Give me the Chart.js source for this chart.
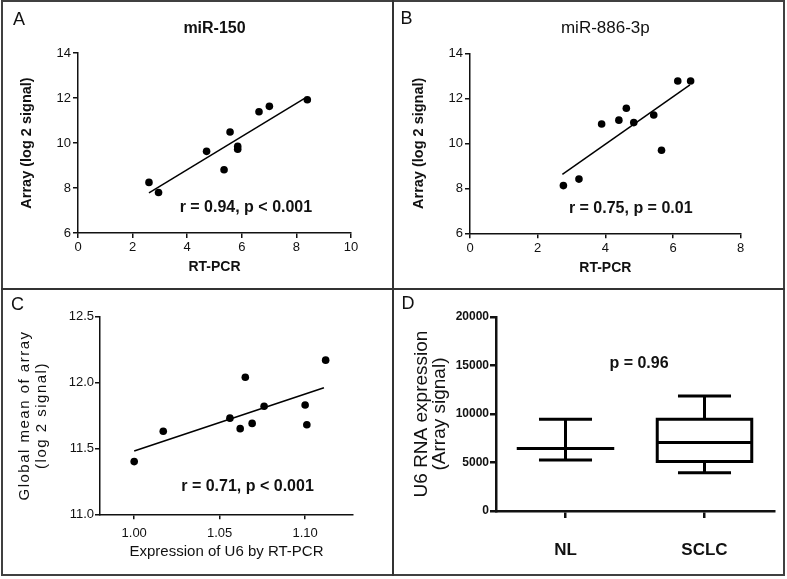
<!DOCTYPE html>
<html><head><meta charset="utf-8">
<script src="https://cdn.jsdelivr.net/npm/chart.js@4.4.1/dist/chart.umd.min.js"></script>
<style>
html,body{margin:0;padding:0;background:#fff;}
#wrap{position:relative;width:787px;height:579px;overflow:hidden;background:#fff;}
canvas{position:absolute;}
.ln{position:absolute;background:#333;}
#outer{position:absolute;left:1px;top:0;width:784px;height:576px;border:2px solid #404040;box-sizing:border-box;}
</style></head><body>
<div id="wrap">
<canvas id="cA" width="392" height="288" style="left:0;top:0;width:392px;height:288px"></canvas>
<canvas id="cB" width="391" height="288" style="left:394px;top:0;width:391px;height:288px"></canvas>
<canvas id="cC" width="392" height="286" style="left:0;top:290px;width:392px;height:286px"></canvas>
<canvas id="cD" width="391" height="286" style="left:394px;top:290px;width:391px;height:286px"></canvas>
<div id="outer"></div>
<div class="ln" style="left:392px;top:0;width:2px;height:576px"></div>
<div class="ln" style="left:1px;top:288px;width:784px;height:2px"></div>
</div>
<script>
const FONT = "'Liberation Sans', Arial, Helvetica, sans-serif";

// ---- Panel A: miR-150 ----
const rtpcrA = [2.60, 2.95, 4.71, 5.35, 5.57, 5.85, 5.85, 6.63, 7.01, 8.40];
const arrayA = [8.25, 7.80, 9.63, 8.81, 10.49, 9.85, 9.72, 11.39, 11.63, 11.92];
const fitA_x = [2.6, 8.3];
const fitA_y = [7.78, 11.98];

// ---- Panel B: miR-886-3p ----
const rtpcrB = [2.76, 3.22, 3.89, 4.40, 4.62, 4.84, 5.43, 5.66, 6.14, 6.52];
const arrayB = [8.12, 8.41, 10.86, 11.03, 11.56, 10.92, 11.26, 9.69, 12.77, 12.77];
const fitB_x = [2.73, 6.5];
const fitB_y = [8.62, 12.6];

// ---- Panel C: U6 vs global mean ----
const u6C = [1.000, 1.017, 1.056, 1.062, 1.065, 1.069, 1.076, 1.100, 1.101, 1.112];
const meanC = [11.40, 11.63, 11.73, 11.65, 12.04, 11.69, 11.82, 11.83, 11.68, 12.17];
const fitC_x = [1.00, 1.111];
const fitC_y = [11.48, 11.96];
const ticksC_x = [1.00, 1.05, 1.10];

// ---- Panel D: U6 RNA expression box plot ----
const groupsD = ['NL', 'SCLC'];
const lowD  = [5250, 3950];
const q1D   = [6450, 5100];
const medD  = [6450, 7050];
const q3D   = [6450, 9450];
const highD = [9450, 11850];

function pts(xs, ys){ return xs.map((x,i)=>({x:x, y:ys[i]})); }

const panelText = {
  id:'panelText',
  beforeDraw(chart, args, o){
    if (o.yTitleSpacing && !chart.scales.y._spacedTitle){
      const s = chart.scales.y; const orig = s.drawTitle;
      s.drawTitle = function(){ const c = this.ctx; c.letterSpacing = o.yTitleSpacing; orig.call(this); c.letterSpacing = '0px'; };
      s._spacedTitle = true;
    }
  },
  afterDraw(chart, args, o){
    const ctx = chart.ctx; ctx.save();
    ctx.fillStyle = '#111'; ctx.textAlign = 'center'; ctx.textBaseline = 'middle';
    ctx.font = 'normal 18px ' + FONT;
    ctx.fillText(o.letter, o.lx, o.ly);
    if (o.note){
      ctx.font = 'bold 16px ' + FONT;
      const x = chart.scales.x.getPixelForValue(o.note.x);
      const y = chart.scales.y.getPixelForValue(o.note.y);
      ctx.fillText(o.note.text, x, y);
    }
    ctx.restore();
  }
};

function axis(o){
  const a = {
    type:'linear', min:o.min, max:o.max,
    afterFit(s){ if(o.w!=null) s.width=o.w; if(o.h!=null) s.height=o.h; },
    ticks:{ color:'#111', font:o.tickFont, padding:o.tickPad, autoSkip:false, maxRotation:0, minRotation:0 },
    grid:{ display:true, drawOnChartArea:false, drawTicks:true, tickLength:o.tl, color:'#111', lineWidth:o.lw },
    border:{ display:true, color:'#111', width:o.lw },
    title:{ display:true, text:o.title, color:'#111', font:o.titleFont, padding:o.titlePad }
  };
  if (o.step!=null) a.ticks.stepSize = o.step;
  if (o.cb) a.ticks.callback = o.cb;
  if (o.tickVals) a.afterBuildTicks = (s)=>{ s.ticks = o.tickVals.map(v=>({value:v})); };
  return a;
}

function scatterChart(id, xs, ys, fx, fy, cfg){
  return new Chart(document.getElementById(id), {
    type:'scatter',
    data:{ datasets:[
      { data: pts(xs, ys), backgroundColor:'#000', borderColor:'#000', pointRadius:3.8, pointBorderWidth:0, pointHoverRadius:3.8 },
      { type:'line', data: pts(fx, fy), borderColor:'#000', borderWidth:1.5, pointRadius:0, fill:false, tension:0 }
    ]},
    options:{
      responsive:false, animation:false, devicePixelRatio:1,
      layout:{ padding: cfg.padding },
      plugins:{ legend:{display:false}, tooltip:{enabled:false},
        title: cfg.title || {display:false},
        panelText: cfg.text },
      scales:{ x: axis(cfg.x), y: axis(cfg.y) }
    },
    plugins:[panelText]
  });
}

// Panel A
scatterChart('cA', rtpcrA, arrayA, fitA_x, fitA_y, {
  padding:{left:0, right:41, top:0, bottom:10},
  title:{display:true, text:'miR-150', fullSize:false, color:'#111', font:{family:FONT, size:16, weight:'bold', lineHeight:1.2}, padding:{top:18.5, bottom:15.3}},
  text:{letter:'A', lx:19, ly:20, note:{text:'r = 0.94, p < 0.001', x:6.15, y:7.15}},
  x:{min:0, max:10, step:2, h:45, tl:5, lw:1.5, tickPad:2, tickFont:{family:FONT, size:13}, title:'RT-PCR', titleFont:{family:FONT, size:14, weight:'bold', lineHeight:1.2}, titlePad:{top:0, bottom:2}},
  y:{min:6, max:14, step:2, w:78, tl:5, lw:1.5, tickPad:2, tickFont:{family:FONT, size:13}, title:'Array (log 2 signal)', titleFont:{family:FONT, size:14.5, weight:'bold', lineHeight:1.2}, titlePad:{top:18.3, bottom:0}}
});

// Panel B
scatterChart('cB', rtpcrB, arrayB, fitB_x, fitB_y, {
  padding:{left:0, right:44.3, top:0, bottom:9.7},
  title:{display:true, text:'miR-886-3p', fullSize:false, color:'#111', font:{family:FONT, size:17, weight:'normal', lineHeight:1.2}, padding:{top:18, bottom:14.9}},
  text:{letter:'B', lx:12.5, ly:19, note:{text:'r = 0.75, p = 0.01', x:4.75, y:7.11}},
  x:{min:0, max:8, step:2, h:45, tl:5, lw:1.5, tickPad:2, tickFont:{family:FONT, size:13}, title:'RT-PCR', titleFont:{family:FONT, size:14, weight:'bold', lineHeight:1.2}, titlePad:{top:0, bottom:2.2}},
  y:{min:6, max:14, step:2, w:76, tl:5, lw:1.5, tickPad:2, tickFont:{family:FONT, size:13}, title:'Array (log 2 signal)', titleFont:{family:FONT, size:14.5, weight:'bold', lineHeight:1.2}, titlePad:{top:16.3, bottom:0}}
});

// Panel C
scatterChart('cC', u6C, meanC, fitC_x, fitC_y, {
  padding:{left:0, right:39, top:26.7, bottom:11.7},
  text:{letter:'C', lx:17.5, ly:15, yTitleSpacing:'1.5px', note:{text:'r = 0.71, p < 0.001', x:1.0663, y:11.21}},
  x:{min:0.98, max:1.128, tickVals:ticksC_x, cb:(v)=>Number(v).toFixed(2), h:50, tl:5, lw:1.5, tickPad:6, tickFont:{family:FONT, size:13}, title:'Expression of U6 by RT-PCR', titleFont:{family:FONT, size:15, weight:'normal', lineHeight:1.2}, titlePad:{top:0, bottom:3.6}},
  y:{min:11, max:12.5, step:0.5, cb:(v)=>Number(v).toFixed(1), w:100, tl:5, lw:1.5, tickPad:1, tickFont:{family:FONT, size:13}, title:['Global mean of array','(log 2 signal)'], titleFont:{family:FONT, size:15, weight:'normal', lineHeight:1.1}, titlePad:{top:16.75, bottom:0}}
});

// Panel D
function boxSegments(){
  const out = []; const W = 0.34, C = 0.18;
  groupsD.forEach((g, i)=>{
    const c = i + 1;
    const seg = (arr)=>{ arr.forEach(p=>out.push({x:p[0], y:p[1]})); out.push({x:c, y:null}); };
    seg([[c-W,q1D[i]],[c+W,q1D[i]],[c+W,q3D[i]],[c-W,q3D[i]],[c-W,q1D[i]]]);
    seg([[c-W,medD[i]],[c+W,medD[i]]]);
    seg([[c,q3D[i]],[c,highD[i]]]);
    seg([[c-C,highD[i]],[c+C,highD[i]]]);
    seg([[c,q1D[i]],[c,lowD[i]]]);
    seg([[c-C,lowD[i]],[c+C,lowD[i]]]);
  });
  return out;
}
new Chart(document.getElementById('cD'), {
  type:'scatter',
  data:{ datasets:[{ data: boxSegments(), showLine:true, spanGaps:false, borderColor:'#000', borderWidth:3, pointRadius:0, borderJoinStyle:'miter', borderCapStyle:'square', tension:0 }]},
  options:{
    responsive:false, animation:false, devicePixelRatio:1,
    layout:{ padding:{left:0, right:11, top:27, bottom:10} },
    plugins:{ legend:{display:false}, tooltip:{enabled:false},
      panelText:{letter:'D', lx:14, ly:14, note:{text:'p = 0.96', x:1.529, y:15200}} },
    scales:{
      x: axis({min:0.5, max:2.5, tickVals:[1,2], cb:(v)=>groupsD[Math.round(v)-1], h:55, tl:7, lw:2.5, tickPad:22, tickFont:{family:FONT, size:17, weight:'bold'}, title:'', titleFont:{family:FONT, size:12}, titlePad:0}),
      y: axis({min:0, max:20000, step:5000, cb:(v)=>String(v), w:102, tl:6, lw:2.5, tickPad:1, tickFont:{family:FONT, size:12, weight:'bold'}, title:['U6 RNA expression','(Array signal)'], titleFont:{family:FONT, size:19, weight:'normal', lineHeight:0.95}, titlePad:{top:18.5, bottom:0}})
    }
  },
  plugins:[panelText]
});
</script>
</body></html>
